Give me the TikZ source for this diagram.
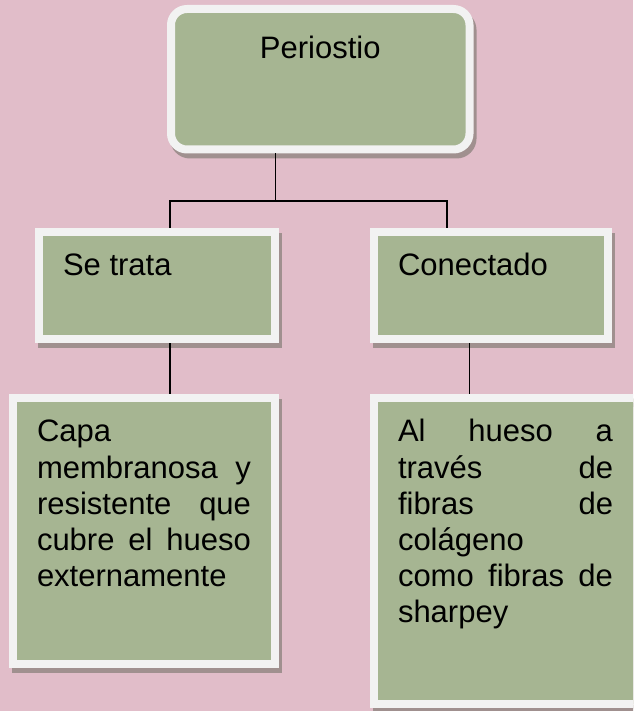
\documentclass[tikz,border=0pt]{standalone}
\usepackage{fontspec}
\setmainfont{Liberation Sans}
\usepackage{tikz}
\usepackage{xcolor}
\definecolor{rose}{HTML}{E1BDC9}
\definecolor{sage}{HTML}{A6B592}
\definecolor{rim}{HTML}{F2F2F2}
\definecolor{dropc}{HTML}{A0908F}
\newcommand{\boxtext}[3]{\parbox[c][#1][t]{#2}{\strut #3}}

\begin{document}
\begin{tikzpicture}[x=1pt, y=-1pt,
        leaf/.style = {draw=rim, fill=sage, line width=8pt, inner xsep=24pt,
            font=\fontsize{31pt}{36.2pt}\selectfont,
            preaction={draw=dropc, fill=dropc, line width=8pt,
                transform canvas={shift={(3pt,-5pt)}}}},
        link/.style = {line width=1.4pt}]
        \useasboundingbox (0,0) rectangle (633,711);
        \clip (0,0) rectangle (633,711);
        \fill[rose] (0,0) rectangle (633,711);

        \node[leaf, rounded corners=16pt, inner ysep=23.8pt] (P) at (320.25,79.25) {\boxtext{92.9pt}{250.5pt}{\centering Periostio}};
        \node[leaf, inner ysep=17.8pt] (T) at (157,285.5) {\boxtext{71.4pt}{188pt}{Se trata}};
        \node[leaf, inner ysep=17.8pt] (C) at (491,285.5) {\boxtext{71.4pt}{186pt}{Conectado}};
        \node[leaf, inner ysep=18.5pt] (L) at (144,531) {\boxtext{229pt}{214pt}{Capa\\ membranosa\hfill y\\ resistente\hfill que\\ cubre\hfill el\hfill hueso\\ externamente}};
        \node[leaf, inner ysep=18.5pt] (R) at (511.5,551) {\boxtext{269pt}{215pt}{Al\hfill hueso\hfill a\\ través\hfill de\\ fibras\hfill de\\ colágeno\\ como\hfill fibras\hfill de\\ sharpey}\kern12pt};

        \draw[link] ([xshift=-44.5pt]P.south) -- ++(0,47.5);
        \draw[link] ([xshift=13pt]T.north) -- ++(0,-27) -| ([xshift=-44pt]C.north);
        \draw[link] ([xshift=13pt]T.south) -- ([xshift=13pt]T.south |- L.north);
        \draw[link] ([xshift=-21.7pt]C.south) -- ([xshift=-21.7pt]C.south |- R.north);
    \end{tikzpicture}
\end{document}
